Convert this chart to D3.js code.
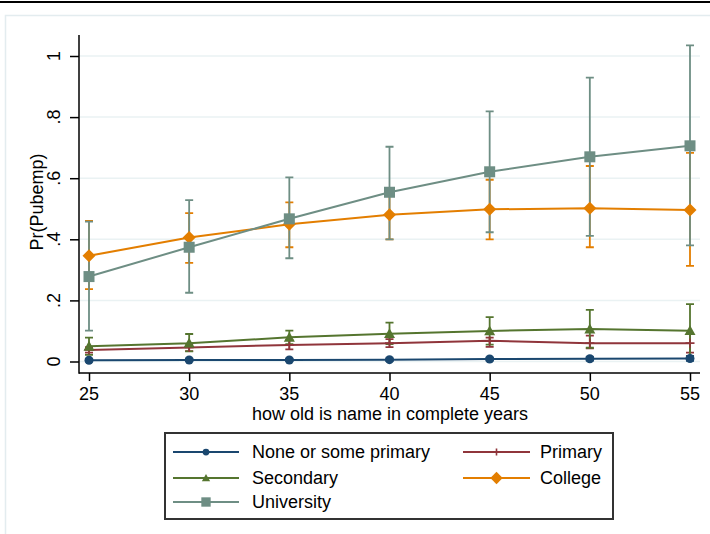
<!DOCTYPE html>
<html>
<head>
<meta charset="utf-8">
<script src="https://cdn.jsdelivr.net/npm/d3@7"></script>
<style>
  html, body { margin: 0; padding: 0; background: #fff; }
  svg { display: block; font-family: "Liberation Sans", Arial, sans-serif; }
</style>
</head>
<body>
<svg id="chart" width="710" height="534"></svg>
<script>
// ---- data ----
const ages = [25, 30, 35, 40, 45, 50, 55];
const yTicks = [0, 0.2, 0.4, 0.6, 0.8, 1];
const yTickLabels = ["0", ".2", ".4", ".6", ".8", "1"];
const seriesNames = ["None or some primary", "Primary", "Secondary", "College", "University"];

const noneVals = [0.004, 0.005, 0.005, 0.006, 0.008, 0.009, 0.010];
const noneLo   = [0.000, 0.001, 0.001, 0.002, 0.003, 0.003, 0.002];
const noneHi   = [0.008, 0.009, 0.009, 0.010, 0.013, 0.015, 0.018];

const primaryVals = [0.038, 0.046, 0.054, 0.060, 0.068, 0.060, 0.060];
const primaryLo   = [0.029, 0.034, 0.040, 0.047, 0.048, 0.043, 0.029];
const primaryHi   = [0.047, 0.058, 0.071, 0.073, 0.078, 0.085, 0.092];

const secondaryVals = [0.050, 0.060, 0.079, 0.091, 0.100, 0.106, 0.101];
const secondaryLo   = [0.022, 0.033, 0.057, 0.057, 0.055, 0.045, 0.016];
const secondaryHi   = [0.078, 0.090, 0.101, 0.127, 0.145, 0.169, 0.188];

const collegeVals = [0.346, 0.406, 0.449, 0.480, 0.498, 0.502, 0.496];
const collegeLo   = [0.237, 0.323, 0.374, 0.400, 0.400, 0.374, 0.313];
const collegeHi   = [0.460, 0.486, 0.521, 0.560, 0.595, 0.640, 0.683];

const universityVals = [0.278, 0.374, 0.467, 0.554, 0.621, 0.670, 0.706];
const universityLo   = [0.101, 0.225, 0.338, 0.400, 0.423, 0.411, 0.380];
const universityHi   = [0.458, 0.528, 0.603, 0.703, 0.819, 0.929, 1.035];

// ---- series table built from arrays ----
const series = [
  { name: seriesNames[0], vals: noneVals, lo: noneLo, hi: noneHi, color: "#1a476f", sym: "circle" },
  { name: seriesNames[1], vals: primaryVals, lo: primaryLo, hi: primaryHi, color: "#90353b", sym: "plus" },
  { name: seriesNames[2], vals: secondaryVals, lo: secondaryLo, hi: secondaryHi, color: "#55752f", sym: "triangle" },
  { name: seriesNames[3], vals: collegeVals, lo: collegeLo, hi: collegeHi, color: "#e37e00", sym: "diamond" },
  { name: seriesNames[4], vals: universityVals, lo: universityLo, hi: universityHi, color: "#6e8e84", sym: "square" }
];

const FS = 18;
const svg = d3.select("#chart");

// top rule (page edge) and outer frame
svg.append("line").attr("x1", 0).attr("x2", 710).attr("y1", 2).attr("y2", 2)
  .attr("stroke", "#000").attr("stroke-width", 2);
svg.append("rect").attr("x", 5.5).attr("y", 15.5).attr("width", 720).attr("height", 540)
  .attr("fill", "none").attr("stroke", "#e3ecef").attr("stroke-width", 1.5);

// ---- scales ----
const x = d3.scaleLinear().domain([25, 55]).range([89, 690]);
const y = d3.scaleLinear().domain([0, 1]).range([361.5, 56]);
const plotLeft = 79, plotRight = 700, plotTop = 35, plotBottom = 373;

// gridlines
svg.append("g").selectAll("line").data(yTicks).join("line")
  .attr("x1", plotLeft + 1).attr("x2", plotRight)
  .attr("y1", d => y(d)).attr("y2", d => y(d))
  .attr("stroke", "#eaf2f3").attr("stroke-width", 1.5);

// axes
const yAxis = d3.axisLeft(y).tickValues(yTicks).tickSize(9).tickFormat("");
const gy = svg.append("g").attr("transform", `translate(${plotLeft},0)`).call(yAxis);
gy.select(".domain").remove();
gy.selectAll(".tick line").attr("stroke", "#000").attr("stroke-width", 1.5);
svg.append("line").attr("x1", plotLeft).attr("x2", plotLeft).attr("y1", plotTop).attr("y2", plotBottom + 0.75)
  .attr("stroke", "#000").attr("stroke-width", 1.5);

svg.append("g").selectAll("text").data(yTicks).join("text")
  .attr("transform", d => `translate(60,${y(d)}) rotate(-90)`)
  .attr("text-anchor", "middle")
  .attr("font-size", FS).attr("fill", "#000")
  .text((d, i) => yTickLabels[i]);

const xAxis = d3.axisBottom(x).tickValues(ages).tickSize(8).tickFormat("");
const gx = svg.append("g").attr("transform", `translate(0,${plotBottom})`).call(xAxis);
gx.select(".domain").remove();
gx.selectAll(".tick line").attr("stroke", "#000").attr("stroke-width", 1.5);
svg.append("line").attr("x1", plotLeft).attr("x2", plotRight).attr("y1", plotBottom).attr("y2", plotBottom)
  .attr("stroke", "#000").attr("stroke-width", 1.5);

svg.append("g").selectAll("text").data(ages).join("text")
  .attr("x", d => x(d)).attr("y", 400)
  .attr("text-anchor", "middle").attr("font-size", FS).attr("fill", "#000")
  .text(d => d);

// axis titles
svg.append("text").attr("x", 390).attr("y", 420).attr("text-anchor", "middle")
  .attr("font-size", FS).attr("fill", "#000").text("how old is name in complete years");
svg.append("text").attr("transform", "translate(43,202) rotate(-90)").attr("text-anchor", "middle")
  .attr("font-size", FS).attr("fill", "#000").text("Pr(Pubemp)");

// ---- marker drawing ----
function drawMarker(g, sym, cx, cy, color, s) {
  if (sym === "circle") {
    g.append("circle").attr("cx", cx).attr("cy", cy).attr("r", 4.5 * s).attr("fill", color);
  } else if (sym === "square") {
    const h = 5.5 * s;
    g.append("rect").attr("x", cx - h).attr("y", cy - h).attr("width", 2 * h).attr("height", 2 * h).attr("fill", color);
  } else if (sym === "diamond") {
    const h = 6.5 * s;
    g.append("path").attr("d", `M${cx},${cy - h}L${cx + h},${cy}L${cx},${cy + h}L${cx - h},${cy}Z`).attr("fill", color);
  } else if (sym === "triangle") {
    const h = 5.5 * s;
    g.append("path").attr("d", `M${cx},${cy - h}L${cx + h},${cy + h * 0.8}L${cx - h},${cy + h * 0.8}Z`).attr("fill", color);
  } else if (sym === "plus") {
    const h = 4.5 * s;
    g.append("path").attr("d", `M${cx - h},${cy}H${cx + h}M${cx},${cy - h}V${cy + h}`)
      .attr("stroke", color).attr("stroke-width", 1.6).attr("fill", "none");
  }
}

// CIs
const capW = 4;
series.forEach(sr => {
  const g = svg.append("g");
  ages.forEach((a, i) => {
    const cx = x(a);
    g.append("path")
      .attr("d", `M${cx},${y(sr.lo[i])}V${y(sr.hi[i])}M${cx - capW},${y(sr.lo[i])}H${cx + capW}M${cx - capW},${y(sr.hi[i])}H${cx + capW}`)
      .attr("stroke", sr.color).attr("stroke-width", 1.8).attr("fill", "none");
  });
});

// lines + markers
const line = d3.line().x((d, i) => x(ages[i])).y(d => y(d));
series.forEach(sr => {
  const g = svg.append("g");
  g.append("path").datum(sr.vals).attr("d", line)
    .attr("fill", "none").attr("stroke", sr.color).attr("stroke-width", 2);
  ages.forEach((a, i) => drawMarker(g, sr.sym, x(a), y(sr.vals[i]), sr.color, 1));
});

// ---- legend ----
svg.append("rect").attr("x", 165).attr("y", 433).attr("width", 448).attr("height", 86)
  .attr("fill", "#fff").attr("stroke", "#333").attr("stroke-width", 2);
const legPos = [
  { lx1: 173, lx2: 239, tx: 252, cy: 452 },
  { lx1: 463, lx2: 530, tx: 540, cy: 452 },
  { lx1: 173, lx2: 239, tx: 252, cy: 478 },
  { lx1: 463, lx2: 530, tx: 540, cy: 478 },
  { lx1: 173, lx2: 239, tx: 252, cy: 502 }
];
const legScale = [0.75, 0.8, 0.75, 0.95, 0.85];
series.forEach((sr, i) => {
  const p = legPos[i];
  const g = svg.append("g");
  g.append("line").attr("x1", p.lx1).attr("x2", p.lx2).attr("y1", p.cy).attr("y2", p.cy)
    .attr("stroke", sr.color).attr("stroke-width", 2);
  drawMarker(g, sr.sym, (p.lx1 + p.lx2) / 2, p.cy, sr.color, legScale[i]);
  g.append("text").attr("x", p.tx).attr("y", p.cy + 6).attr("font-size", FS).attr("fill", "#000")
    .text(sr.name);
});
</script>
</body>
</html>
